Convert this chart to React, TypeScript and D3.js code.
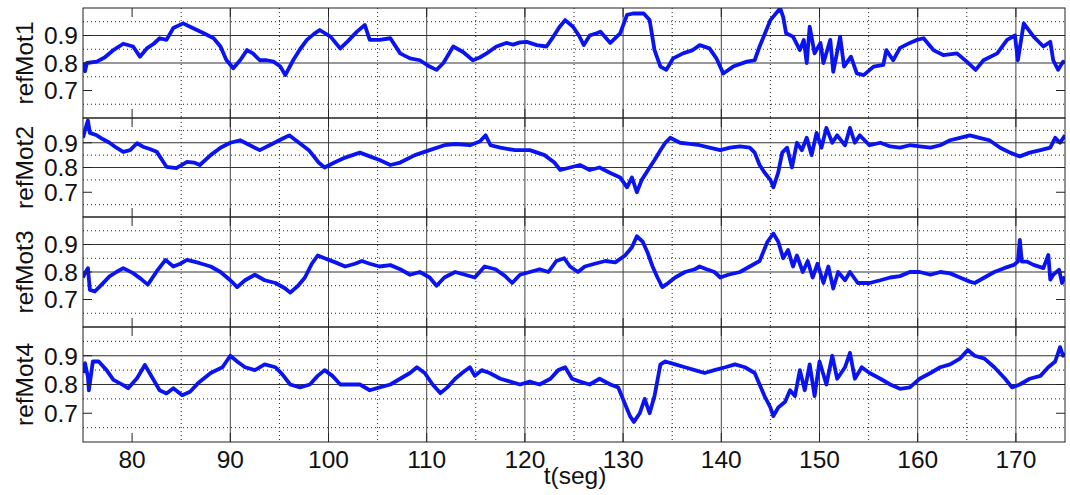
import * as React from 'react';
import * as d3 from 'd3';

// refMot series: [t (s), value]
const refMot1: [number, number][] = [
  [75.0, 0.8], [75.2, 0.77], [75.4, 0.8], [76.4, 0.805], [77.2, 0.82], [78.1, 0.847], [79.1, 0.87], [80.1, 0.86],
  [80.8, 0.823], [81.5, 0.853], [82.2, 0.87], [82.8, 0.89], [83.5, 0.884], [84.2, 0.927], [85.2, 0.944], [85.9, 0.932],
  [86.6, 0.92], [87.3, 0.908], [88.3, 0.89], [89, 0.86], [89.6, 0.811], [90.3, 0.781], [91, 0.81], [91.7, 0.847],
  [92.3, 0.835], [93, 0.81], [93.7, 0.81], [94.4, 0.805], [95.1, 0.787], [95.6, 0.756], [96.4, 0.81], [97.1, 0.85],
  [97.8, 0.884], [98.5, 0.905], [99.1, 0.92], [100.2, 0.896], [101.2, 0.853], [101.9, 0.877], [102.9, 0.914],
  [103.7, 0.938], [104.2, 0.884], [105.2, 0.884], [106.3, 0.89], [107.3, 0.835], [108.3, 0.817], [109.3, 0.81],
  [110.3, 0.787], [111, 0.775], [111.7, 0.8], [112.7, 0.86], [113.7, 0.84], [114.7, 0.81], [115.4, 0.82],
  [116.1, 0.835], [117.1, 0.86], [118.1, 0.873], [118.8, 0.867], [119.5, 0.875], [120.2, 0.877], [121.2, 0.865],
  [122.2, 0.86], [122.9, 0.896], [123.5, 0.93], [124.1, 0.956], [124.9, 0.932], [125.5, 0.9], [126, 0.865],
  [126.6, 0.9], [127.3, 0.908], [127.7, 0.914], [128.7, 0.873], [129.7, 0.908], [130.4, 0.975], [131, 0.98],
  [132.1, 0.98], [132.7, 0.956], [133.2, 0.847], [133.8, 0.787], [134.4, 0.775], [135.1, 0.817], [136.1, 0.835],
  [137.1, 0.847], [137.8, 0.865], [138.8, 0.853], [139.5, 0.817], [140.2, 0.762], [141.2, 0.787], [142.6, 0.805],
  [143.4, 0.81], [143.9, 0.86], [145, 0.956], [146, 0.999], [146.3, 0.968], [146.6, 0.908], [147.3, 0.896],
  [148, 0.847], [148.4, 0.884], [148.7, 0.8], [149, 0.932], [149.5, 0.835], [150.1, 0.873], [150.4, 0.8],
  [151.1, 0.884], [151.4, 0.768], [152.1, 0.896], [152.5, 0.787], [153.2, 0.823], [153.8, 0.762], [154.5, 0.756],
  [155.5, 0.787], [156.5, 0.793], [156.8, 0.847], [157.5, 0.81], [158.2, 0.855], [159.2, 0.873], [159.9, 0.884],
  [160.6, 0.89], [161.6, 0.847], [162.6, 0.829], [164, 0.835], [165, 0.805], [165.9, 0.775], [166.7, 0.81],
  [168.1, 0.835], [169.1, 0.884], [169.9, 0.9], [170.2, 0.81], [170.8, 0.944], [171.8, 0.896], [172.8, 0.86],
  [173.5, 0.877], [173.8, 0.81], [174.3, 0.775], [174.8, 0.805], [175, 0.8],
];

const refMot2: [number, number][] = [
  [75, 0.92], [75.2, 0.95], [75.5, 0.99], [75.7, 0.94], [76.4, 0.93], [77, 0.915], [77.7, 0.9], [78.4, 0.88],
  [79.1, 0.863], [79.8, 0.87], [80.5, 0.898], [81.1, 0.884], [81.8, 0.875], [82.5, 0.864], [83.5, 0.803],
  [84.5, 0.797], [85.6, 0.823], [86.3, 0.82], [86.9, 0.81], [88, 0.85], [89, 0.88], [90, 0.9], [91, 0.91],
  [92, 0.89], [93, 0.87], [94, 0.89], [95.5, 0.92], [96, 0.93], [97, 0.9], [98, 0.87], [99, 0.82], [99.6, 0.8],
  [100.6, 0.82], [101.7, 0.84], [103.2, 0.86], [104.2, 0.845], [105.2, 0.83], [106.3, 0.81], [107.3, 0.82],
  [108.8, 0.85], [110.3, 0.87], [111.8, 0.89], [112.9, 0.895], [114.4, 0.89], [115.4, 0.905], [116, 0.93],
  [116.5, 0.89], [117.5, 0.88], [119, 0.87], [120.5, 0.87], [122, 0.85], [123, 0.82], [123.6, 0.79], [124.6, 0.8],
  [125.6, 0.81], [126.6, 0.79], [127.6, 0.8], [128.6, 0.78], [129.7, 0.76], [130.4, 0.72], [130.9, 0.76],
  [131.4, 0.7], [131.9, 0.75], [132.7, 0.8], [133.2, 0.83], [133.8, 0.87], [134.3, 0.9], [134.8, 0.92],
  [135.8, 0.9], [136.8, 0.895], [137.8, 0.89], [138.8, 0.88], [139.9, 0.87], [140.9, 0.88], [141.9, 0.885],
  [142.9, 0.88], [143.4, 0.86], [143.9, 0.81], [144.4, 0.78], [145, 0.75], [145.3, 0.72], [145.8, 0.78],
  [146.2, 0.86], [146.7, 0.88], [147.2, 0.8], [147.7, 0.9], [148.2, 0.87], [148.7, 0.92], [149.2, 0.85],
  [149.7, 0.94], [150.2, 0.88], [150.7, 0.96], [151.3, 0.9], [151.8, 0.93], [152.6, 0.89], [153.1, 0.96],
  [153.6, 0.9], [154.1, 0.93], [155.1, 0.89], [156.2, 0.9], [157.2, 0.885], [158.2, 0.88], [159.2, 0.89],
  [160.2, 0.885], [161.3, 0.88], [162.3, 0.89], [163.3, 0.91], [164.3, 0.92], [165.3, 0.93], [166.3, 0.92],
  [167.3, 0.91], [168.4, 0.88], [169.4, 0.86], [170.4, 0.845], [171.4, 0.86], [172.5, 0.87], [173.5, 0.88],
  [174, 0.92], [174.5, 0.9], [175, 0.93],
];

const refMot3: [number, number][] = [
  [75, 0.78], [75.2, 0.796], [75.5, 0.814], [75.7, 0.735], [76.2, 0.729], [76.7, 0.747], [77.7, 0.784], [78.4, 0.8],
  [79.1, 0.814], [80.1, 0.796], [80.9, 0.775], [81.6, 0.754], [82.5, 0.802], [83.4, 0.844], [84.2, 0.82],
  [84.9, 0.83], [85.6, 0.844], [86.9, 0.832], [88, 0.82], [89, 0.8], [90, 0.77], [90.7, 0.745], [91.5, 0.77],
  [92.5, 0.79], [93.5, 0.77], [94.6, 0.76], [95.6, 0.74], [96.1, 0.725], [96.9, 0.75], [97.6, 0.78], [98.3, 0.83],
  [98.9, 0.86], [99.6, 0.85], [100.7, 0.835], [101.7, 0.82], [102.7, 0.83], [103.4, 0.84], [104.2, 0.83],
  [105.2, 0.82], [106.3, 0.825], [107.3, 0.81], [108.3, 0.79], [109.3, 0.8], [110.3, 0.78], [111, 0.75],
  [111.8, 0.78], [112.9, 0.8], [113.9, 0.79], [114.9, 0.78], [115.9, 0.82], [117, 0.81], [118, 0.785],
  [118.7, 0.76], [119.5, 0.79], [120.5, 0.8], [121.5, 0.81], [122.4, 0.8], [123.2, 0.84], [124, 0.85],
  [124.6, 0.82], [125.4, 0.8], [126.1, 0.82], [127.1, 0.83], [128.2, 0.84], [129.2, 0.835], [130.2, 0.86],
  [130.9, 0.89], [131.4, 0.93], [132, 0.91], [132.5, 0.87], [133, 0.82], [133.5, 0.78], [134, 0.745],
  [134.6, 0.76], [135.3, 0.78], [136.3, 0.8], [137.3, 0.81], [137.8, 0.82], [138.5, 0.81], [139.3, 0.8],
  [139.9, 0.78], [140.7, 0.79], [141.9, 0.8], [142.9, 0.82], [143.9, 0.84], [144.7, 0.91], [145.3, 0.94],
  [145.8, 0.91], [146.3, 0.85], [146.8, 0.88], [147.3, 0.82], [147.7, 0.86], [148.3, 0.8], [148.8, 0.84],
  [149.3, 0.78], [149.8, 0.83], [150.4, 0.76], [150.9, 0.82], [151.4, 0.74], [151.9, 0.8], [152.6, 0.77],
  [153.1, 0.8], [153.9, 0.76], [155.1, 0.76], [156.2, 0.77], [157.2, 0.78], [158.2, 0.785], [159.2, 0.8],
  [160.2, 0.8], [161.3, 0.79], [162.3, 0.8], [163.3, 0.795], [164.3, 0.78], [165.3, 0.765], [165.8, 0.76],
  [166.8, 0.78], [167.8, 0.8], [168.8, 0.814], [169.8, 0.826], [170.2, 0.838], [170.4, 0.917], [170.6, 0.838],
  [171.1, 0.838], [171.8, 0.826], [172.8, 0.814], [173.3, 0.862], [173.5, 0.772], [173.8, 0.79], [174.4, 0.808],
  [174.7, 0.76], [175, 0.784],
];

const refMot4: [number, number][] = [
  [75, 0.84], [75.2, 0.874], [75.5, 0.827], [75.6, 0.78], [76, 0.88], [76.6, 0.88], [77.4, 0.85], [78.1, 0.816],
  [79.1, 0.798], [79.6, 0.787], [80.5, 0.822], [81.3, 0.868], [82, 0.827], [82.8, 0.78], [83.5, 0.769],
  [84.2, 0.787], [85.1, 0.763], [85.9, 0.775], [86.7, 0.804], [88, 0.84], [89.2, 0.86], [90, 0.9], [90.7, 0.88],
  [91.5, 0.86], [92.5, 0.85], [93.5, 0.87], [94.6, 0.86], [95.3, 0.835], [96.1, 0.8], [97.1, 0.79], [98.1, 0.8],
  [98.9, 0.83], [99.6, 0.85], [100.4, 0.83], [101.2, 0.8], [102.2, 0.8], [103.2, 0.8], [104.2, 0.78],
  [105.2, 0.79], [106.3, 0.8], [107.3, 0.82], [108.3, 0.84], [109, 0.86], [109.8, 0.84], [110.6, 0.8],
  [111.4, 0.77], [112.1, 0.79], [112.9, 0.82], [113.6, 0.84], [114.4, 0.86], [114.9, 0.83], [115.6, 0.85],
  [116.4, 0.84], [117.5, 0.82], [118.5, 0.81], [119.5, 0.8], [120.5, 0.81], [121.5, 0.8], [122.6, 0.82],
  [123.4, 0.85], [124.1, 0.86], [124.8, 0.82], [125.6, 0.81], [126.6, 0.8], [127.6, 0.82], [128.7, 0.8],
  [129.5, 0.79], [130.1, 0.74], [130.7, 0.69], [131.1, 0.67], [131.7, 0.7], [132.2, 0.75], [132.7, 0.7],
  [133.2, 0.76], [133.8, 0.87], [134.3, 0.88], [135.3, 0.87], [136.3, 0.86], [137.3, 0.85], [138.3, 0.84],
  [139.3, 0.85], [140.4, 0.86], [141.4, 0.87], [142.4, 0.86], [143.4, 0.84], [143.9, 0.8], [144.4, 0.76],
  [145, 0.72], [145.3, 0.69], [145.8, 0.72], [146.5, 0.74], [147, 0.78], [147.5, 0.76], [148, 0.85],
  [148.5, 0.78], [149, 0.87], [149.5, 0.76], [150, 0.88], [150.7, 0.8], [151.3, 0.9], [151.8, 0.82],
  [152.6, 0.86], [153.1, 0.91], [153.6, 0.82], [154.3, 0.86], [155.1, 0.84], [156.2, 0.82], [157.2, 0.8],
  [158.2, 0.785], [159.2, 0.79], [160.2, 0.82], [161.3, 0.84], [162.3, 0.86], [163.3, 0.87], [164.3, 0.89],
  [165.1, 0.92], [165.8, 0.9], [166.8, 0.89], [167.8, 0.86], [168.9, 0.82], [169.6, 0.79], [170.4, 0.8],
  [171.4, 0.82], [172.5, 0.83], [173.3, 0.86], [174, 0.88], [174.5, 0.93], [174.8, 0.9], [175, 0.91],
];

const seriesNames = ['refMot1', 'refMot2', 'refMot3', 'refMot4'];
const xTicks = [80, 90, 100, 110, 120, 130, 140, 150, 160, 170];
const xMinor = [85, 95, 105, 115, 125, 135, 145, 155, 165];
const yTicks = [0.7, 0.8, 0.9];
const ySolid = [0.8, 0.9];
const yDotted = [0.65, 0.75, 0.85, 0.95];
const xDomain: [number, number] = [75, 175];
const yDomain: [number, number] = [0.6, 1.0];

const W = 1070;
const H = 495;
const left = 83;
const right = 1065;
// panel tops/bottoms (px)
const panels = [
  { top: 8, bottom: 118 },
  { top: 118, bottom: 217 },
  { top: 217, bottom: 327 },
  { top: 327, bottom: 442 },
];

const font = '"Liberation Sans", Arial, Helvetica, sans-serif';
const fs = 24.5;
const tickLen = 9;

const App = () => {
  const x = d3.scaleLinear().domain(xDomain).range([left, right]);
  const allSeries = [refMot1, refMot2, refMot3, refMot4];

  return (
    <div style={{ position: 'absolute', left: 0, top: 0 }}>
      <svg width={W} height={H} style={{ display: 'block', background: '#fff' }}>
        <defs>
          {panels.map((p, i) => (
            <clipPath id={'clip' + i} key={i}>
              <rect x={left} y={p.top} width={right - left} height={p.bottom - p.top} />
            </clipPath>
          ))}
        </defs>
        {panels.map((p, i) => {
          const y = d3.scaleLinear().domain(yDomain).range([p.bottom, p.top]);
          const line = d3
            .line<[number, number]>()
            .x(d => x(d[0]))
            .y(d => y(d[1]));
          return (
            <g key={i}>
              {/* dotted grid */}
              {xMinor.map(t => (
                <line key={'xm' + t} x1={x(t)} x2={x(t)} y1={p.top} y2={p.bottom}
                  stroke="#222" strokeWidth={1} strokeDasharray="1,3" />
              ))}
              {yDotted.map(v => (
                <line key={'yd' + v} x1={left} x2={right} y1={y(v)} y2={y(v)}
                  stroke="#222" strokeWidth={1} strokeDasharray="1,3" />
              ))}
              {/* solid grid */}
              {xTicks.filter(t => t !== 80).map(t => (
                <line key={'xs' + t} x1={x(t)} x2={x(t)} y1={p.top} y2={p.bottom}
                  stroke="#444" strokeWidth={1} />
              ))}
              {ySolid.map(v => (
                <line key={'ys' + v} x1={left} x2={right} y1={y(v)} y2={y(v)}
                  stroke="#333" strokeWidth={1} />
              ))}
              <path d={line(allSeries[i]) || ''} fill="none" stroke="#0a14f0"
                strokeWidth={3.8} strokeLinejoin="round" clipPath={`url(#clip${i})`} />
              {/* ticks */}
              {xTicks.map(t => (
                <g key={'xt' + t}>
                  <line x1={x(t)} x2={x(t)} y1={p.top} y2={p.top + tickLen} stroke="#222" />
                  <line x1={x(t)} x2={x(t)} y1={p.bottom} y2={p.bottom - tickLen} stroke="#222" />
                </g>
              ))}
              {yTicks.map(v => (
                <g key={'yt' + v}>
                  <line x1={left} x2={left + tickLen} y1={y(v)} y2={y(v)} stroke="#222" />
                  <line x1={right} x2={right - tickLen} y1={y(v)} y2={y(v)} stroke="#222" />
                  <text x={left - 5} y={y(v)} dy="0.36em" textAnchor="end"
                    fontFamily={font} fontSize={fs} fill="#111">
                    {d3.format('.1f')(v)}
                  </text>
                </g>
              ))}
              <rect x={left} y={p.top} width={right - left} height={p.bottom - p.top}
                fill="none" stroke="#222" strokeWidth={1} />
              <text transform={`translate(33,${(p.top + p.bottom) / 2}) rotate(-90)`}
                textAnchor="middle" fontFamily={font} fontSize={fs} fill="#111">
                {seriesNames[i]}
              </text>
            </g>
          );
        })}
        {xTicks.map(t => (
          <text key={'xl' + t} x={x(t)} y={468} textAnchor="middle"
            fontFamily={font} fontSize={fs} fill="#111">
            {t}
          </text>
        ))}
        <text x={575} y={484} textAnchor="middle" fontFamily={font} fontSize={fs} fill="#111">
          t(seg)
        </text>
      </svg>
    </div>
  );
};

export default App;
